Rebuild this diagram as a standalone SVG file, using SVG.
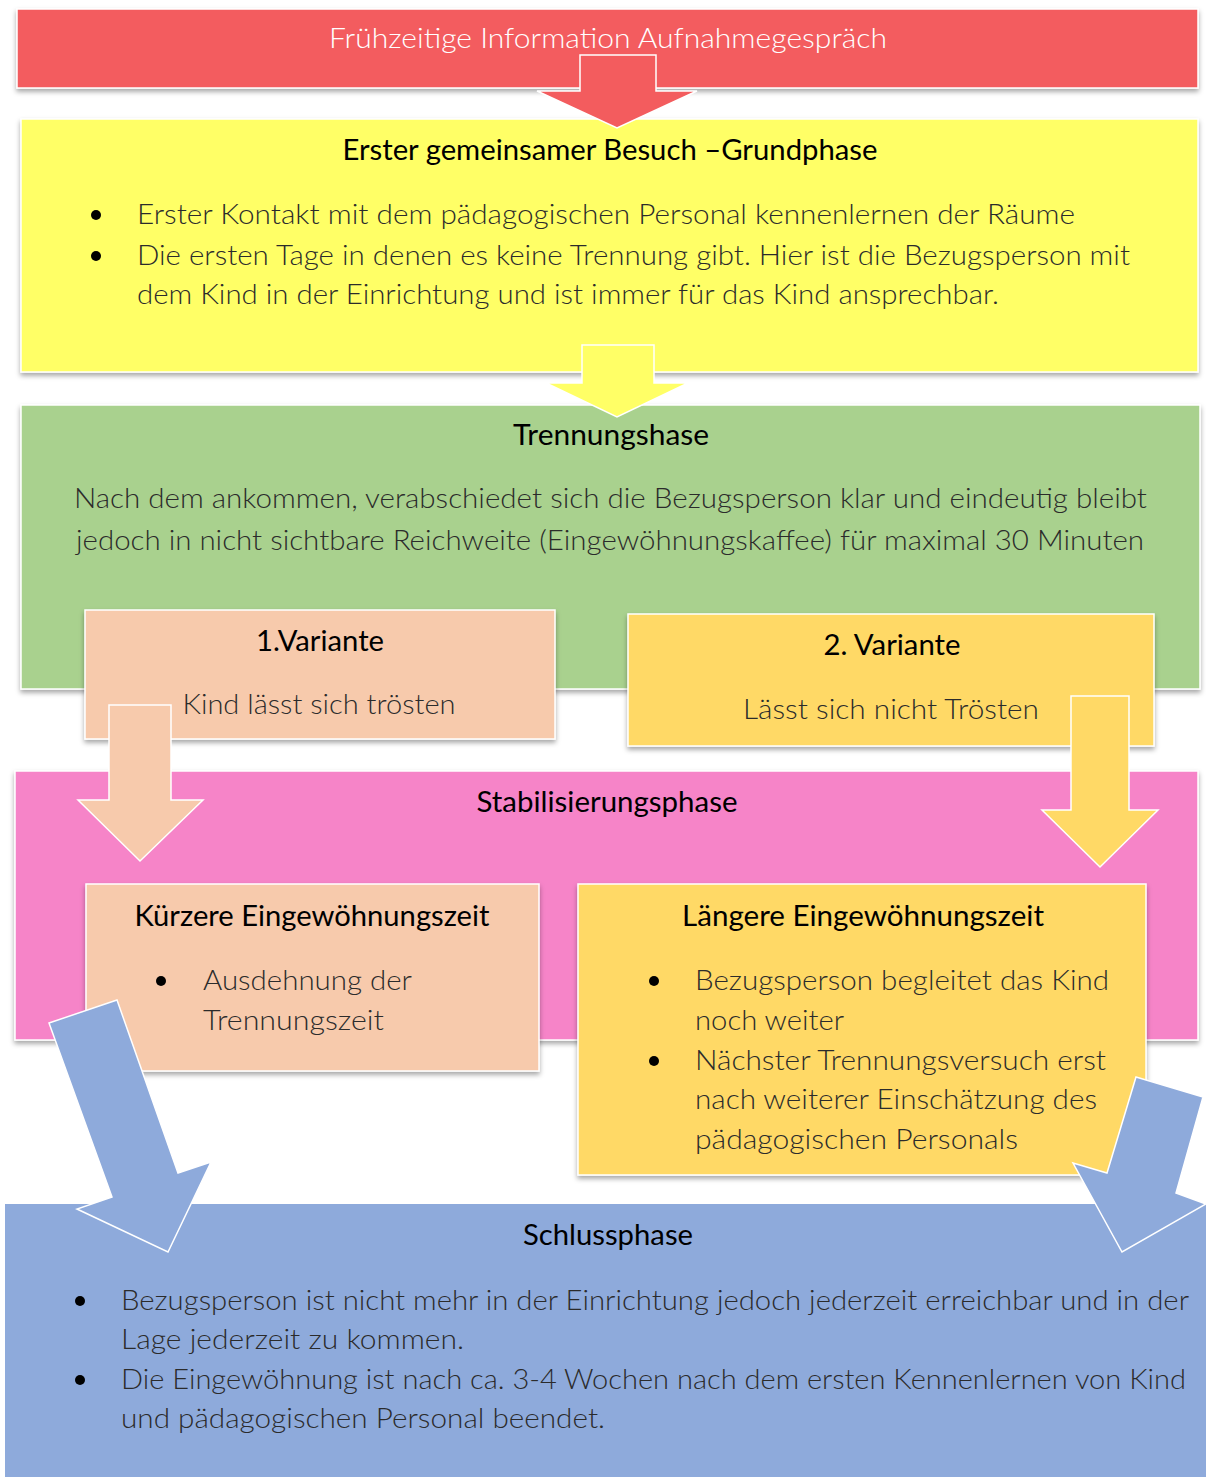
<svg xmlns="http://www.w3.org/2000/svg" width="1206" height="1477" viewBox="0 0 1206 1477">
<defs>
<filter id="sh" x="-5%" y="-10%" width="110%" height="130%">
<feDropShadow dx="0" dy="3" stdDeviation="2.5" flood-color="#000" flood-opacity="0.35"/>
</filter>
<style>
.box{stroke:#fff;stroke-width:1.5;filter:url(#sh)}
.arr{stroke:#fff;stroke-width:1.5}
text{font-family:Lato,"Open Sans","Liberation Sans",sans-serif;font-size:28px}
.t{fill:#000;text-anchor:middle}
.b{fill:#2b2b2b;font-weight:300}
.c{text-anchor:middle}
.dot{fill:#000}
</style>
</defs>
<rect width="1206" height="1477" fill="#fff"/>

<g id="n-red">
<rect class="box" x="17" y="9" width="1181" height="79" fill="#F35C5E"/>
<text class="c" x="608" y="48" fill="#fff" font-weight="300" textLength="558" lengthAdjust="spacingAndGlyphs">Frühzeitige Information Aufnahmegespräch</text>
</g>

<g id="n-grund">
<rect class="box" x="21" y="119" width="1177" height="253" fill="#FFFF66"/>
<text class="t" x="610" y="160" textLength="535" lengthAdjust="spacingAndGlyphs">Erster gemeinsamer Besuch –Grundphase</text>
<circle class="dot" cx="96" cy="215" r="5"/>
<circle class="dot" cx="96" cy="256" r="5"/>
<text class="b" x="137" y="224" textLength="938" lengthAdjust="spacingAndGlyphs">Erster Kontakt mit dem pädagogischen Personal kennenlernen der Räume</text>
<text class="b" x="137" y="265" textLength="993" lengthAdjust="spacingAndGlyphs">Die ersten Tage in denen es keine Trennung gibt. Hier ist die Bezugsperson mit</text>
<text class="b" x="137" y="304" textLength="862" lengthAdjust="spacingAndGlyphs">dem Kind in der Einrichtung und ist immer für das Kind ansprechbar.</text>
</g>

<g id="n-trenn">
<rect class="box" x="21" y="405" width="1179" height="284" fill="#A9D18E"/>
<text class="t" x="611" y="445" textLength="196" lengthAdjust="spacingAndGlyphs">Trennungshase</text>
<text class="b" x="74" y="508" textLength="1073" lengthAdjust="spacingAndGlyphs">Nach dem ankommen, verabschiedet sich die Bezugsperson klar und eindeutig bleibt</text>
<text class="b" x="76" y="550" textLength="1068" lengthAdjust="spacingAndGlyphs">jedoch in nicht sichtbare Reichweite (Eingewöhnungskaffee) für maximal 30 Minuten</text>
</g>

<g id="n-var1">
<rect class="box" x="85" y="610" width="470" height="129" fill="#F7CAAC"/>
<text class="t" x="320" y="651" textLength="128" lengthAdjust="spacingAndGlyphs">1.Variante</text>
<text class="b c" x="319" y="714" textLength="273" lengthAdjust="spacingAndGlyphs">Kind lässt sich trösten</text>
</g>

<g id="n-var2">
<rect class="box" x="628" y="614" width="526" height="132" fill="#FFD966"/>
<text class="t" x="892" y="655" textLength="137" lengthAdjust="spacingAndGlyphs">2. Variante</text>
<text class="b c" x="891" y="719" textLength="296" lengthAdjust="spacingAndGlyphs">Lässt sich nicht Trösten</text>
</g>

<g id="n-stab">
<rect class="box" x="15" y="771" width="1183" height="269" fill="#F684C8"/>
<text class="t" x="607" y="812" textLength="261" lengthAdjust="spacingAndGlyphs">Stabilisierungsphase</text>
</g>

<g id="connectors-a">
<polygon class="arr" fill="#F35C5E" points="580,55 656,55 656,91 697,91 617,128 537,91 580,91"/>
<polygon class="arr" fill="#FFFF66" points="582,345 654,345 654,383 688,383 617,417 546,383 582,383"/>
<polygon class="arr" fill="#F7CAAC" points="109,705 171,705 171,800 203,800 140,861 78,800 109,800"/>
<polygon class="arr" fill="#FFD966" points="1071,696 1129,696 1129,810 1158,810 1100,867 1042,810 1071,810"/>
</g>

<g id="n-kurz">
<rect class="box" x="86" y="884" width="453" height="187" fill="#F7CAAC"/>
<text class="t" x="312" y="926" textLength="355" lengthAdjust="spacingAndGlyphs">Kürzere Eingewöhnungszeit</text>
<circle class="dot" cx="161" cy="981" r="5"/>
<text class="b" x="203" y="990" textLength="209" lengthAdjust="spacingAndGlyphs">Ausdehnung der</text>
<text class="b" x="203" y="1030" textLength="181" lengthAdjust="spacingAndGlyphs">Trennungszeit</text>
</g>

<g id="n-lang">
<rect class="box" x="578" y="884" width="568" height="291" fill="#FFD966"/>
<text class="t" x="863" y="926" textLength="362" lengthAdjust="spacingAndGlyphs">Längere Eingewöhnungszeit</text>
<circle class="dot" cx="654" cy="981" r="5"/>
<circle class="dot" cx="654" cy="1061" r="5"/>
<text class="b" x="695" y="990" textLength="414" lengthAdjust="spacingAndGlyphs">Bezugsperson begleitet das Kind</text>
<text class="b" x="695" y="1030" textLength="149" lengthAdjust="spacingAndGlyphs">noch weiter</text>
<text class="b" x="695" y="1070" textLength="411" lengthAdjust="spacingAndGlyphs">Nächster Trennungsversuch erst</text>
<text class="b" x="695" y="1109" textLength="402" lengthAdjust="spacingAndGlyphs">nach weiterer Einschätzung des</text>
<text class="b" x="695" y="1149" textLength="323" lengthAdjust="spacingAndGlyphs">pädagogischen Personals</text>
</g>

<g id="n-schluss">
<rect x="5" y="1204" width="1201" height="273" fill="#8EAADB"/>
<text class="t" x="608" y="1245" textLength="170" lengthAdjust="spacingAndGlyphs">Schlussphase</text>
<circle class="dot" cx="80" cy="1301" r="5"/>
<circle class="dot" cx="80" cy="1380" r="5"/>
<text class="b" x="121" y="1310" textLength="1068" lengthAdjust="spacingAndGlyphs">Bezugsperson ist nicht mehr in der Einrichtung jedoch jederzeit erreichbar und in der</text>
<text class="b" x="121" y="1349" textLength="343" lengthAdjust="spacingAndGlyphs">Lage jederzeit zu kommen.</text>
<text class="b" x="121" y="1389" textLength="1065" lengthAdjust="spacingAndGlyphs">Die Eingewöhnung ist nach ca. 3-4 Wochen nach dem ersten Kennenlernen von Kind</text>
<text class="b" x="121" y="1428" textLength="484" lengthAdjust="spacingAndGlyphs">und pädagogischen Personal beendet.</text>
</g>

<g id="connectors-b">
<polygon class="arr" fill="#8EAADB" points="49,1023 117,1000 178,1173 211,1162 168,1252 77,1209 112,1197"/>
<polygon class="arr" fill="#8EAADB" points="1136,1077 1203,1097 1176,1193 1206,1204 1122,1252 1073,1163 1107,1173"/>
</g>
</svg>
